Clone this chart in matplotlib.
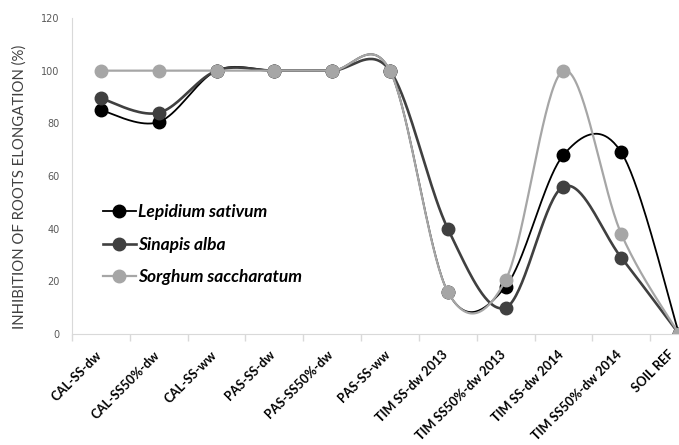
import numpy as np
import matplotlib
matplotlib.use("Agg")
import matplotlib.pyplot as plt
from matplotlib.lines import Line2D

# categories on the x axis
categories = ["CAL-SS-dw", "CAL-SS50%-dw", "CAL-SS-ww", "PAS-SS-dw", "PAS-SS50%-dw",
              "PAS-SS-ww", "TIM SS-dw 2013", "TIM SS50%-dw 2013", "TIM SS-dw 2014",
              "TIM SS50%-dw 2014", "SOIL REF"]

# inhibition of roots elongation (%)
lepidium = [85, 80.5, 100, 100, 100, 100, 16, 18, 68, 69, 0]
sinapis = [89.5, 84, 100, 100, 100, 100, 40, 10, 56, 29, 0]
sorghum = [100, 100, 100, 100, 100, 100, 16, 20.5, 100, 38, 0]

series_names = ["Lepidium sativum", "Sinapis alba", "Sorghum saccharatum"]
yticks = [0, 20, 40, 60, 80, 100, 120]


def smooth(xs, ys, n=40):
    # excel-like smoothed line: cubic bezier through every point
    xs = np.asarray(xs, float)
    ys = np.asarray(ys, float)
    px = np.concatenate([[xs[0]], xs, [xs[-1]]])
    py = np.concatenate([[ys[0]], ys, [ys[-1]]])
    outx, outy = [], []
    t = np.linspace(0, 1, n)
    for i in range(len(xs) - 1):
        x0, y0 = px[i + 1], py[i + 1]
        x3, y3 = px[i + 2], py[i + 2]
        x1 = x0 + (px[i + 2] - px[i]) / 6
        y1 = y0 + (py[i + 2] - py[i]) / 6
        x2 = x3 - (px[i + 3] - px[i + 1]) / 6
        y2 = y3 - (py[i + 3] - py[i + 1]) / 6
        bx = (1 - t) ** 3 * x0 + 3 * (1 - t) ** 2 * t * x1 + 3 * (1 - t) * t ** 2 * x2 + t ** 3 * x3
        by = (1 - t) ** 3 * y0 + 3 * (1 - t) ** 2 * t * y1 + 3 * (1 - t) * t ** 2 * y2 + t ** 3 * y3
        outx.extend(bx)
        outy.extend(by)
    return outx, outy


fig = plt.figure(figsize=(6.79, 4.45), dpi=100)
ax = fig.add_axes([72 / 679, 111 / 445, 636 / 679, 316 / 445])

x = np.arange(len(categories)) + 0.5
styles = [("#000000", 1.3), ("#404040", 1.9), ("#a6a6a6", 1.6)]
handles = []
for vals, (col, lw), name in zip([lepidium, sinapis, sorghum], styles, series_names):
    sx, sy = smooth(x, vals)
    ax.plot(sx, sy, color=col, lw=lw, solid_capstyle="round")
    ax.plot(x, vals, ls="none", marker="o", ms=9, color=col)
    handles.append(Line2D([0], [0], color=col, lw=lw, marker="o", ms=9))

ax.set_xlim(0, len(categories))
ax.set_ylim(0, 120)
ax.set_yticks(yticks)
ax.set_yticklabels([str(v) for v in yticks], fontsize=7, color="#595959")
ax.tick_params(axis="y", length=0, pad=9)

ax.set_xticks(np.arange(len(categories) + 1), minor=False)
ax.set_xticklabels([])
ax.tick_params(axis="x", length=5, color="#d9d9d9", width=1)
for i, (xi, lab) in enumerate(zip(x, categories)):
    # last label sits right at the picture edge, pull it in a little
    shift = 0.2 if i == len(categories) - 1 else 0.1
    ax.text(xi - shift, -5.5, lab, rotation=45, ha="right", va="top", rotation_mode="anchor",
            fontsize=9.2, fontweight="bold", family="Lato")

for side in ["top", "right"]:
    ax.spines[side].set_visible(False)
ax.spines["left"].set_color("#d9d9d9")
ax.spines["bottom"].set_color("#d9d9d9")

fig.text(20 / 679, 1 - 187 / 445, "INHIBITION OF ROOTS ELONGATION (%)", rotation=90,
         ha="center", va="center", fontsize=10.7, color="#404040", family="Lato")

leg = ax.legend(handles, series_names, loc="upper left", bbox_to_anchor=(0.024, 0.46),
                frameon=False, handlelength=1.9, handletextpad=0.1, labelspacing=0.95,
                prop={"family": "Lato", "weight": "bold", "style": "italic", "size": 12.5})

fig.savefig("out.png", dpi=100)
